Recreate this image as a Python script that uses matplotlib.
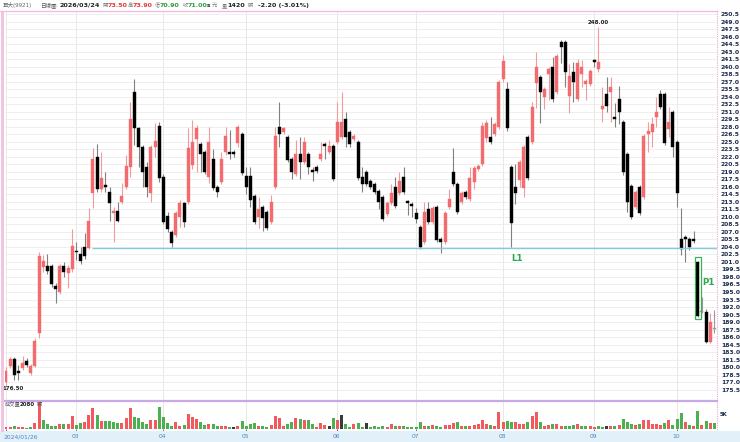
import matplotlib
matplotlib.use("Agg")
import matplotlib.pyplot as plt
from matplotlib.patches import Rectangle
from matplotlib.lines import Line2D
import numpy as np

plt.rcParams['font.family'] = ['DejaVu Sans', 'Noto Sans CJK TC']

# daily candles, 2024/01/26 ... 2024/10
opens = [
    177.0, 180.2, 181.6, 179.2, 179.8, 181.2, 178.8, 180.2, 186.8, 200.0,
    200.2, 200.2, 196.2, 195.0, 200.2, 198.8, 199.6, 203.0, 202.6, 204.0,
    203.8, 214.8, 222.0, 215.6, 216.2, 215.0, 210.8, 211.2, 213.0, 216.0,
    220.0, 235.0, 227.7, 224.0, 220.0, 214.8, 224.0, 228.1, 218.0, 210.2,
    207.0, 206.4, 210.0, 212.8, 213.0, 220.4, 225.5, 224.5, 223.0, 218.0,
    221.6, 216.0, 217.0, 223.0, 223.0, 223.0, 224.8, 226.6, 218.2, 218.2,
    214.2, 210.0, 212.0, 211.0, 209.0, 216.0, 228.0, 227.0, 226.0, 221.6,
    218.6, 222.6, 221.0, 222.6, 219.4, 220.0, 221.6, 224.5, 223.0, 224.2,
    225.0, 226.0, 229.5, 227.0, 225.6, 225.0, 218.0, 219.0, 217.2, 216.6,
    215.2, 214.0, 210.6, 212.8, 216.0, 214.8, 218.0, 213.0, 212.6, 210.8,
    208.0, 205.0, 211.5, 209.0, 212.0, 205.6, 205.0, 212.0, 219.0, 216.6,
    213.0, 215.0, 213.6, 217.0, 219.6, 220.6, 225.7, 226.0, 226.6, 228.0,
    237.5, 235.5, 220.0, 216.0, 217.4, 215.8, 226.0, 225.0, 236.7, 237.9,
    233.9, 238.5, 239.9, 235.0, 244.9, 244.9, 234.1, 238.9, 233.5, 238.5,
    236.5, 236.5, 241.3, 239.5, 231.5, 234.5, 234.9, 230.0, 233.5, 229.0,
    222.6, 216.2, 212.0, 216.0, 214.0, 226.6, 227.0, 230.0, 234.5, 234.5,
    227.5, 231.0, 225.0, 205.6, 206.0, 205.6, 205.6, 201.0, 191.0, 191.0,
    185.0, 187.6]
closes = [
    179.2, 181.6, 178.4, 178.8, 180.8, 180.4, 180.2, 185.2, 202.2, 201.2,
    199.2, 196.6, 195.6, 200.2, 199.0, 199.8, 204.2, 202.9, 201.2, 202.2,
    209.2, 221.5, 215.6, 217.8, 216.0, 212.8, 211.2, 209.2, 214.2, 220.2,
    229.5, 227.7, 224.0, 219.0, 216.0, 224.0, 225.2, 217.8, 209.0, 207.6,
    204.8, 210.8, 212.8, 209.0, 223.7, 225.0, 227.7, 222.6, 219.0, 225.0,
    215.8, 215.0, 221.6, 226.2, 222.6, 222.6, 228.0, 218.8, 216.0, 213.4,
    209.0, 211.5, 209.8, 207.8, 213.0, 226.2, 226.6, 227.7, 221.4, 219.0,
    222.6, 221.0, 225.0, 220.0, 219.0, 219.2, 222.6, 224.2, 224.2, 217.6,
    229.0, 229.0, 226.0, 224.5, 226.2, 217.8, 216.6, 216.6, 216.0, 215.0,
    213.0, 209.6, 212.8, 214.8, 212.2, 217.2, 215.0, 212.8, 212.2, 209.6,
    204.0, 211.0, 209.0, 211.8, 205.4, 205.0, 210.8, 213.6, 216.6, 211.0,
    214.8, 214.0, 217.8, 219.8, 220.2, 228.1, 228.7, 225.0, 228.5, 237.0,
    241.1, 227.7, 208.8, 214.8, 221.0, 224.0, 217.8, 232.0, 239.9, 235.0,
    235.5, 239.5, 233.5, 242.1, 243.9, 238.9, 238.1, 236.9, 240.7, 239.9,
    237.1, 239.1, 241.0, 240.9, 232.1, 232.1, 235.9, 229.5, 231.0, 219.0,
    213.0, 210.0, 215.0, 210.8, 226.2, 227.2, 228.5, 231.0, 232.0, 224.8,
    229.0, 224.0, 214.8, 203.6, 205.6, 204.0, 205.2, 190.2, 191.0, 185.0,
    189.0, 187.6]
highs = [
    180.0, 182.0, 182.0, 180.4, 182.2, 181.8, 180.6, 185.8, 203.0, 202.4,
    202.6, 200.6, 196.8, 200.6, 201.0, 200.4, 207.6, 205.0, 204.0, 206.8,
    211.8, 223.7, 224.5, 223.0, 219.0, 216.0, 212.0, 213.0, 216.8, 222.4,
    233.0, 237.5, 228.0, 224.4, 221.0, 224.4, 228.8, 229.0, 218.5, 211.0,
    207.4, 211.2, 213.4, 213.0, 227.7, 229.3, 228.3, 225.0, 223.4, 228.0,
    223.6, 216.4, 223.0, 228.0, 227.4, 223.4, 228.4, 227.0, 220.0, 220.0,
    214.6, 214.0, 212.4, 211.4, 214.4, 228.0, 233.0, 228.0, 226.4, 222.0,
    225.4, 226.0, 226.0, 223.0, 220.0, 220.4, 225.0, 225.0, 225.4, 224.6,
    233.0, 235.0, 231.0, 227.4, 226.6, 225.4, 220.0, 219.4, 217.6, 217.0,
    215.6, 214.4, 213.2, 216.6, 218.0, 219.0, 220.0, 213.4, 213.0, 211.8,
    208.4, 213.0, 213.0, 212.2, 212.4, 206.0, 211.2, 215.6, 223.7, 217.0,
    215.2, 215.4, 220.0, 220.2, 220.6, 229.0, 229.4, 230.0, 229.0, 237.4,
    242.3, 237.0, 220.4, 220.6, 221.4, 224.4, 226.4, 233.0, 242.9, 238.3,
    236.0, 240.0, 242.0, 242.5, 245.3, 245.3, 240.6, 241.0, 241.5, 241.3,
    237.5, 239.5, 241.6, 248.0, 236.0, 238.0, 237.9, 232.8, 236.2, 229.4,
    223.0, 216.6, 215.4, 216.4, 226.6, 229.0, 230.0, 234.0, 235.4, 235.0,
    232.0, 231.4, 225.4, 211.8, 206.4, 206.0, 207.2, 201.2, 194.0, 191.6,
    190.8, 191.4]
lows = [
    176.5, 179.8, 177.4, 177.4, 179.5, 180.0, 178.5, 180.0, 185.8, 199.0,
    198.5, 196.0, 192.8, 194.6, 198.0, 195.8, 199.0, 201.4, 200.6, 201.6,
    203.5, 211.8, 215.0, 215.0, 215.0, 209.2, 205.0, 209.0, 212.6, 215.6,
    218.0, 224.3, 220.0, 216.0, 214.0, 213.0, 222.0, 217.0, 208.5, 207.0,
    204.0, 206.0, 208.0, 208.0, 212.6, 219.5, 219.0, 219.0, 218.5, 216.8,
    215.4, 214.0, 216.6, 222.4, 221.5, 222.0, 224.0, 218.4, 214.5, 212.0,
    208.6, 207.8, 207.2, 207.4, 208.6, 215.6, 224.0, 226.6, 221.0, 217.6,
    218.2, 217.6, 220.6, 218.6, 217.2, 218.8, 221.2, 221.6, 222.6, 217.2,
    224.6, 225.6, 224.0, 224.0, 225.2, 217.4, 215.0, 216.2, 215.6, 214.6,
    211.6, 209.2, 210.2, 212.4, 211.8, 214.4, 214.6, 210.4, 210.0, 208.8,
    203.6, 204.6, 208.6, 208.6, 205.0, 202.8, 204.6, 211.6, 216.2, 210.6,
    212.6, 213.6, 213.2, 215.6, 219.2, 220.2, 225.0, 224.6, 226.2, 227.6,
    237.0, 227.2, 204.0, 212.6, 216.0, 214.0, 217.4, 224.6, 231.8, 228.7,
    231.6, 233.4, 233.0, 234.6, 240.7, 236.0, 230.7, 233.0, 233.1, 236.0,
    233.3, 236.1, 240.0, 239.0, 229.0, 231.0, 229.0, 228.0, 228.5, 218.4,
    211.0, 209.6, 211.6, 210.4, 213.6, 223.0, 224.0, 228.0, 231.6, 224.4,
    226.0, 222.0, 212.0, 202.4, 201.0, 203.4, 204.8, 190.0, 190.8, 184.8,
    184.8, 186.8]
volumes = [
    933, 933, 1167, 700, 933, 467, 817, 2100, 9450, 3267,
    1750, 1167, 1167, 1750, 1750, 1750, 4783, 1517, 2333, 2683,
    5017, 7350, 5017, 2917, 2917, 2917, 2683, 2100, 2333, 4083,
    7583, 4200, 4083, 2450, 1983, 3267, 3267, 7700, 4433, 2333,
    1167, 2683, 1167, 1517, 5367, 4433, 3500, 2683, 1517, 1983,
    1983, 1167, 1167, 1167, 933, 700, 1167, 2917, 1283, 1750,
    2100, 1167, 1167, 933, 1517, 4667, 3850, 1167, 1750, 2683,
    3850, 3617, 3267, 3267, 1750, 933, 2100, 1517, 1283, 3850,
    3267, 5017, 1750, 700, 1750, 2100, 933, 2100, 933, 1283,
    933, 1167, 933, 1750, 1283, 1283, 1167, 933, 933, 933,
    2450, 1167, 1283, 1517, 1167, 933, 1517, 1517, 2100, 2450,
    1167, 1167, 1283, 1517, 1750, 3267, 1750, 1517, 1283, 5950,
    2683, 2917, 2683, 2683, 1750, 1750, 2683, 4783, 5950, 2450,
    1283, 1517, 1750, 1750, 1167, 1283, 1167, 1517, 1750, 1283,
    1167, 1283, 933, 1167, 933, 1167, 1283, 1167, 1517, 3617,
    2683, 1750, 1517, 1750, 3150, 3150, 1750, 1750, 1517, 2100,
    3267, 1517, 3617, 5600, 2683, 1517, 1283, 6300, 1517, 2917,
    2100, 2080]

month_idx = [0, 17, 38, 58, 80, 99, 120, 142, 162]
month_labels = ['2024/01/26', '03', '04', '05', '06', '07', '08', '09', '10']
price_ticks = np.arange(175.5, 250.6, 1.5)
l1_level = 203.7
l1_start = 20.7
low_mark = 0      # 176.50
high_mark = 143   # 248.00
p1_idx = 167

RED = '#f26b6e'
RED_WICK = '#f39a9c'
BLK = '#000000'
GRY = '#9a9a9a'
VRED = '#f2595c'
VGRN = '#4caf50'
VDRK = '#3a3a3a'
GREEN_TXT = '#2ea84a'

W, H = 740, 442
fig = plt.figure(figsize=(W / 100, H / 100), dpi=100)


def fx(px):
    return px / W


def fy(py):
    return 1 - py / H


x0, x1 = 4.7, 716.7
ax = fig.add_axes([fx(x0), fy(400.7), fx(x1) - fx(x0), fy(10.7) - fy(400.7)])
axv = fig.add_axes([fx(x0), fy(429.3), fx(x1) - fx(x0), fy(400.7) - fy(429.3)])

n = len(closes)
xs = np.arange(n)
o = np.array(opens)
c = np.array(closes)
hi = np.array(highs)
lo = np.array(lows)

body_col = np.where(c > o, RED, np.where(c < o, BLK, GRY))
wick_col = np.where(c > o, RED_WICK, np.where(c < o, '#808080', GRY))

ax.vlines(xs, lo, hi, colors=wick_col, lw=0.8, zorder=2)
bottoms = np.minimum(o, c)
heights = np.maximum(np.abs(c - o), 0.3)
ax.bar(xs, heights, bottom=bottoms, width=0.72, color=body_col,
       edgecolor=body_col, linewidth=0.3, zorder=3)

ax.set_xlim(-0.31, 171.58)
ax.set_ylim(173.3, 251.16)
ax.set_yticks(price_ticks)
ax.set_yticklabels([f'{t:.1f}' for t in price_ticks], fontsize=4.3,
                   fontweight='bold', color='#1c2b4a')
ax.yaxis.tick_right()
ax.tick_params(axis='y', length=0, pad=3)
ax.set_xticks(month_idx)
ax.tick_params(axis='x', length=0, labelbottom=False)
ax.grid(axis='y', color='#ececec', lw=0.6, zorder=0)
ax.grid(axis='x', color='#e4e4e4', lw=0.6, zorder=0)
for s in ax.spines.values():
    s.set_visible(False)

# support line L1
ax.hlines(l1_level, l1_start, 171.58, colors='#84c9de', lw=1.0, zorder=4)
ax.text(123.5, l1_level - 2.0, 'L1', color=GREEN_TXT, fontsize=6.3,
        fontweight='bold', ha='center', va='center', zorder=5)

# P1 box
ax.add_patch(Rectangle((p1_idx - 0.55, closes[p1_idx] - 0.6), 1.45,
                       opens[p1_idx] - closes[p1_idx] + 1.6, fill=False,
                       edgecolor='#3cb05a', lw=0.9, zorder=5))
ax.text(p1_idx + 2.6, 196.9, 'P1', color=GREEN_TXT, fontsize=6.3,
        fontweight='bold', ha='center', va='center', zorder=5)

ax.text(low_mark + 1.8, lows[low_mark] - 0.75, f'{lows[low_mark]:.2f}',
        fontsize=4.0, fontweight='bold', color='#222222', ha='center',
        va='center', zorder=5)
ax.text(high_mark, highs[high_mark] + 0.75, f'{highs[high_mark]:.2f}',
        fontsize=4.0, fontweight='bold', color='#222222', ha='center',
        va='center', zorder=5)

# volume
cp = np.concatenate([[c[0]], c[:-1]])
vcol = np.where(c > cp, VRED, np.where(c < cp, VGRN, VDRK))
vcol[0] = VRED
axv.bar(xs, volumes, width=0.72, color=vcol, zorder=3)
axv.set_xlim(-0.31, 171.58)
axv.set_ylim(0, 10000)
axv.set_yticks([])
axv.set_xticks(month_idx)
axv.tick_params(axis='x', length=2, width=0.6, color='#555555',
                labelbottom=False)
axv.grid(axis='x', color='#e4e4e4', lw=0.6, zorder=0)
for s in axv.spines.values():
    s.set_visible(False)
fig.text(fx(720), fy(415), '5K', fontsize=3.8, fontweight='bold',
         color='#1c2b4a', va='center')
fig.text(fx(5), fy(405), '成交量', fontsize=3.8, color='#555555', va='center')
fig.text(fx(20), fy(405), f'{volumes[-1]}', fontsize=4.0, fontweight='bold',
         color='#222222', va='center')
fig.text(fx(37), fy(405), '張', fontsize=3.8, color='#555555', va='center')

# date band
axb = fig.add_axes([0, 0, 1, fy(430.5)])
axb.set_facecolor('#e2f0fa')
axb.set_xlim(0, W)
axb.set_ylim(0, 1)
axb.set_xticks([])
axb.set_yticks([])
for s in axb.spines.values():
    s.set_visible(False)
for i, lab in zip(month_idx, month_labels):
    px = 6 + i * 4.142
    if i == 0:
        axb.text(4, 0.45, lab, fontsize=4.3, color='#4a84c0', ha='left',
                 va='center')
    else:
        axb.text(px - 1, 0.45, lab, fontsize=4.3, color='#4a84c0',
                 ha='center', va='center')

# frame lines
fig.add_artist(Rectangle((fx(0.5), fy(432)), fx(4.2) - fx(0.5),
                         fy(10.7) - fy(432), transform=fig.transFigure,
                         color='#f2c4e2', lw=0))
fig.add_artist(Line2D([0, fx(x1)], [fy(10.7), fy(10.7)], color='#f0bde0',
                      lw=1.0, transform=fig.transFigure))
fig.add_artist(Line2D([fx(x1), fx(x1)], [fy(10.7), fy(430)], color='#e8a8d8',
                      lw=0.8, ls=(0, (1, 1)), transform=fig.transFigure))
fig.add_artist(Line2D([fx(x0), fx(x1)], [fy(400.7), fy(400.7)],
                      color='#c9a8e8', lw=1.6, transform=fig.transFigure))

# header
hy = fy(5.3)
header = [
    (3, '巨大(9921)', '#666666', 'normal', 4.0),
    (40, '日線圖', '#555555', 'normal', 4.0),
    (60, '2026/03/24', '#222222', 'bold', 4.6),
    (103, '開', '#777777', 'normal', 3.8),
    (108, '73.50', '#e53935', 'bold', 4.6),
    (128, '高', '#777777', 'normal', 3.8),
    (133, '73.90', '#e53935', 'bold', 4.6),
    (155, '低', '#777777', 'normal', 3.8),
    (160, '70.90', '#2e9e3e', 'bold', 4.6),
    (183, '收', '#777777', 'normal', 3.8),
    (188, '71.00', '#2e9e3e', 'bold', 4.6),
    (207, 's', '#222222', 'bold', 4.2),
    (212, '元', '#777777', 'normal', 3.8),
    (222, '量', '#777777', 'normal', 3.8),
    (227, '1420', '#222222', 'bold', 4.6),
    (248, '張', '#777777', 'normal', 3.8),
    (258, '-2.20 (-3.01%)', '#222222', 'bold', 4.6),
]
for px, txt, col, wt, fs in header:
    fig.text(fx(px), hy, txt, color=col, fontweight=wt, fontsize=fs,
             va='center', ha='left')

fig.savefig('out.png', dpi=100)
